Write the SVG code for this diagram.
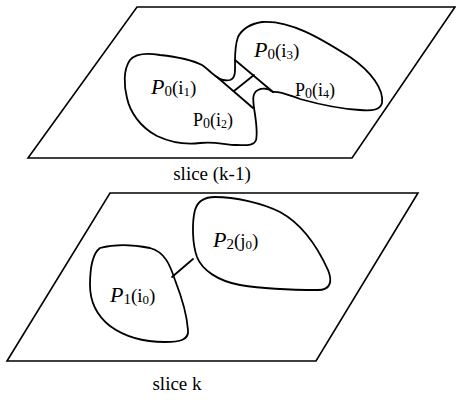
<svg xmlns="http://www.w3.org/2000/svg" width="456" height="403" viewBox="0 0 456 403">
<style>
.plane{fill:none;stroke:#000;stroke-width:1.6;stroke-linejoin:miter}
.blob{fill:none;stroke:#000;stroke-width:1.8;stroke-linejoin:round;stroke-linecap:round}
.lbl{font-family:"Liberation Serif","Times New Roman",serif;fill:#000}
.it{font-style:italic}
</style>
<rect width="456" height="403" fill="#fff"/>
<g id="slice-k-1">
<polygon class="plane" points="137,7 455,7 352,158 28,158"/>
<text class="lbl" x="212" y="180" font-size="19" text-anchor="middle">slice (k-1)</text>
</g>
<g id="slice-k">
<polygon class="plane" points="110,193 418,193 316,361 7,361"/>
<text class="lbl" x="177" y="390" font-size="19" text-anchor="middle">slice k</text>
</g>
<g id="blob-P0">
<path class="blob" d="M217,77 C220,80 226,81 230,80 C236,78 235,70 235,62 C235,55 235,45 238,37 C242,29 250,24 262,22 C290,20 320,38 350,57 C372,72 384,90 382,103 C380,110 373,111 360,110 C340,109 318,104 300,99 C288,95 280,91 273,92 C268,88 262,88 258,90 C252,93 253,100 254,108 C256,120 258,132 256,140 C254,146 246,145 237,145 C225,145 215,141 200,143 C185,145 170,142 157,136 C140,127 130,112 127,98 C124,86 123,70 130,60 C136,53 148,53 160,55 C178,57 192,60 202,65 C208,69 212,74 217,77 Z"/>
<line class="blob" x1="217" y1="77" x2="253" y2="108"/>
<line class="blob" x1="235" y1="60" x2="273" y2="92"/>
<line class="blob" x1="234" y1="91" x2="254" y2="75"/>
</g>
<g id="label-i1"><text class="lbl" x="151" y="94" font-size="19"><tspan class="it" font-size="22">P</tspan><tspan font-size="15" dy="2">0</tspan><tspan dy="-2">(i</tspan><tspan font-size="13" dy="2">1</tspan><tspan dy="-2">)</tspan></text></g>
<g id="label-i2"><text class="lbl" x="193" y="126" font-size="18"><tspan>P</tspan><tspan font-size="14" dy="2">0</tspan><tspan dy="-2">(i</tspan><tspan font-size="12" dy="2">2</tspan><tspan dy="-2">)</tspan></text></g>
<g id="label-i3"><text class="lbl" x="254" y="57" font-size="19"><tspan class="it" font-size="22">P</tspan><tspan font-size="15" dy="2">0</tspan><tspan dy="-2">(i</tspan><tspan font-size="13" dy="2">3</tspan><tspan dy="-2">)</tspan></text></g>
<g id="label-i4"><text class="lbl" x="295" y="96" font-size="18"><tspan>P</tspan><tspan font-size="14" dy="2">0</tspan><tspan dy="-2">(i</tspan><tspan font-size="12" dy="2">4</tspan><tspan dy="-2">)</tspan></text></g>
<g id="blob-P1">
<path class="blob" d="M100,248 C115,244 135,245 150,248 C165,252 170,265 175,280 C182,298 187,315 188,330 C189,340 180,342 165,342 C145,342 125,337 110,326 C96,315 90,300 90,285 C90,268 92,254 100,248 Z"/>
</g>
<g id="blob-P2">
<path class="blob" d="M195,210 C198,200 205,197 215,197 C235,197 262,203 280,212 C302,224 318,248 328,270 C333,282 330,290 318,290 C295,290 265,289 240,285 C218,281 202,270 197,257 C192,243 192,222 195,210 Z"/>
</g>
<g id="label-i0"><text class="lbl" x="110" y="302" font-size="19"><tspan class="it" font-size="22">P</tspan><tspan font-size="15" dy="2">1</tspan><tspan dy="-2">(i</tspan><tspan font-size="13" dy="2">0</tspan><tspan dy="-2">)</tspan></text></g>
<g id="label-j0"><text class="lbl" x="213" y="247" font-size="19"><tspan class="it" font-size="22">P</tspan><tspan font-size="15" dy="2">2</tspan><tspan dy="-2">(j</tspan><tspan font-size="13" dy="2">0</tspan><tspan dy="-2">)</tspan></text></g>
<g id="connectors">
<line class="blob" x1="193" y1="259" x2="172" y2="277"/>
</g>
</svg>
